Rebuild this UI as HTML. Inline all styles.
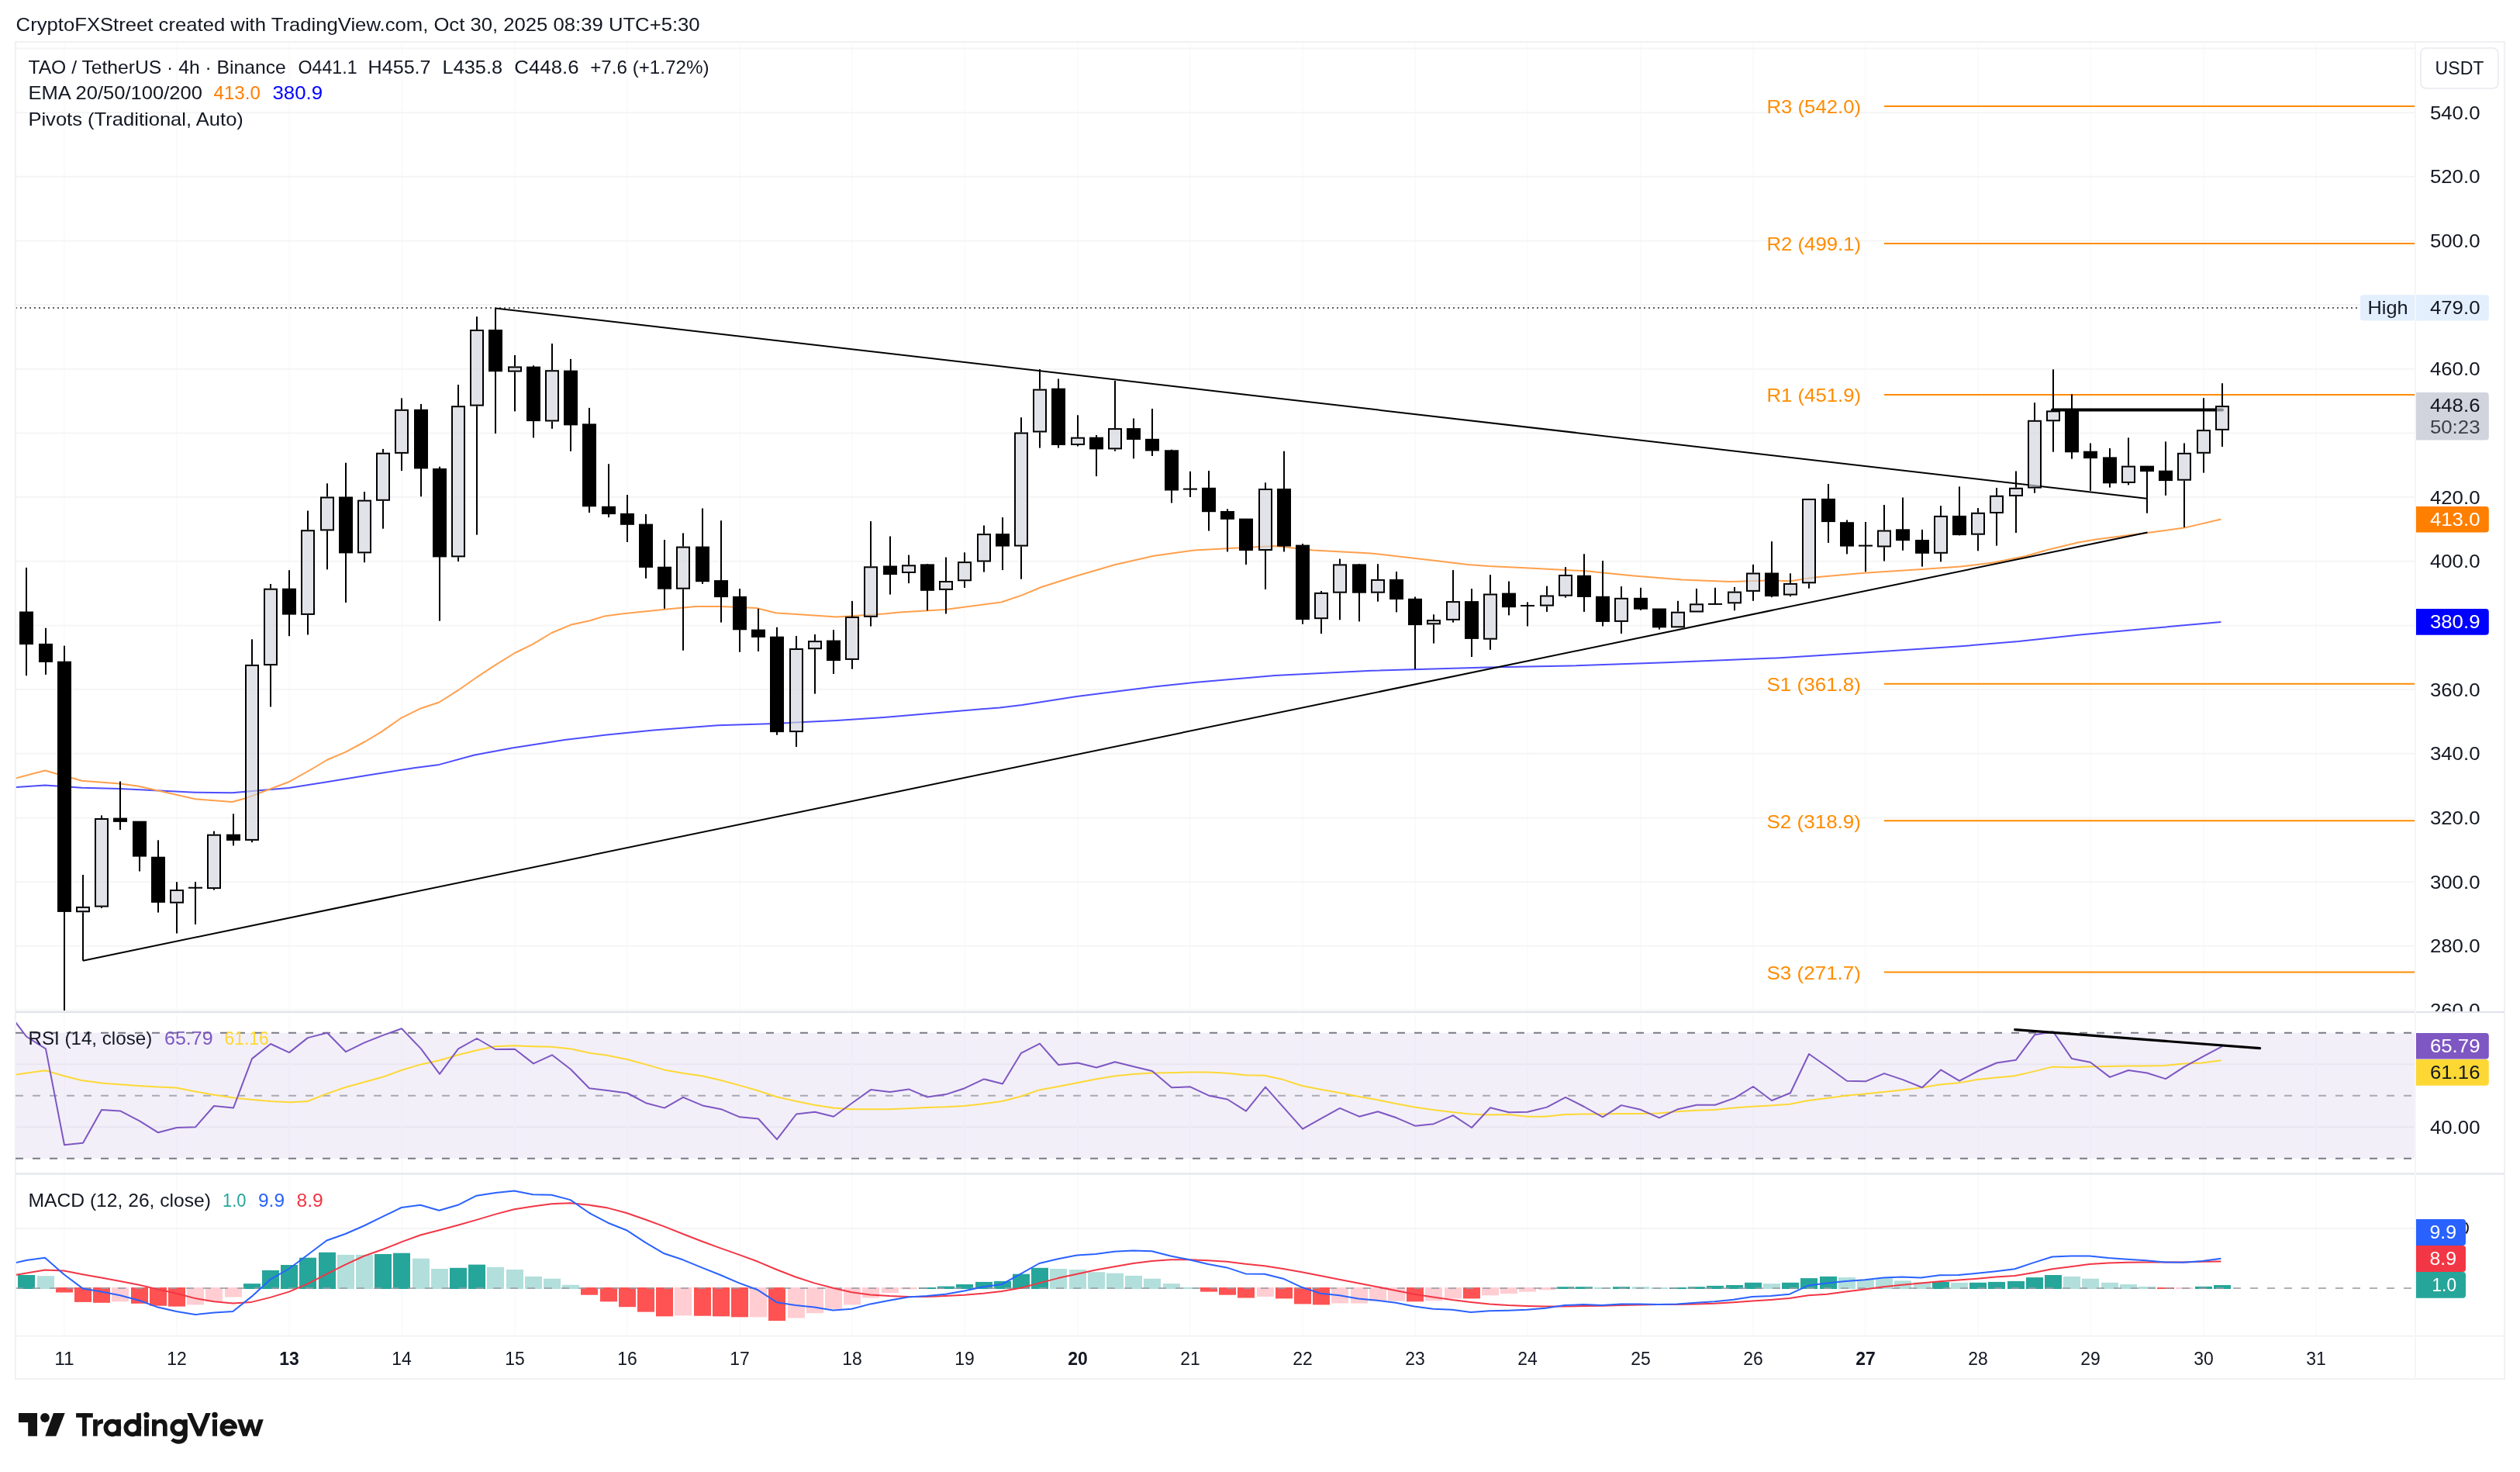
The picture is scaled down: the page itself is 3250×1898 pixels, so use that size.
<!DOCTYPE html>
<html><head><meta charset="utf-8"><title>TAO / TetherUS chart</title>
<style>html,body{margin:0;padding:0;background:#fff;}body{width:3250px;height:1898px;overflow:hidden;font-family:"Liberation Sans",sans-serif;}svg{display:block;position:absolute;left:0;top:0;}svg.t{will-change:transform;}</style>
</head><body>
<svg class="b" width="3250" height="1898" viewBox="0 0 3250 1898" font-family="'Liberation Sans', sans-serif"><rect x="0" y="0" width="3250" height="1898" fill="#ffffff"/>
<rect x="20" y="54" width="3210" height="1724" fill="#ffffff" stroke="#f1f1f3" stroke-width="2"/>
<line x1="83" y1="55" x2="83" y2="1722" stroke="#fbfbfc" stroke-width="2"/>
<line x1="228" y1="55" x2="228" y2="1722" stroke="#fbfbfc" stroke-width="2"/>
<line x1="373" y1="55" x2="373" y2="1722" stroke="#fbfbfc" stroke-width="2"/>
<line x1="518" y1="55" x2="518" y2="1722" stroke="#fbfbfc" stroke-width="2"/>
<line x1="664" y1="55" x2="664" y2="1722" stroke="#fbfbfc" stroke-width="2"/>
<line x1="809" y1="55" x2="809" y2="1722" stroke="#fbfbfc" stroke-width="2"/>
<line x1="954" y1="55" x2="954" y2="1722" stroke="#fbfbfc" stroke-width="2"/>
<line x1="1099" y1="55" x2="1099" y2="1722" stroke="#fbfbfc" stroke-width="2"/>
<line x1="1244" y1="55" x2="1244" y2="1722" stroke="#fbfbfc" stroke-width="2"/>
<line x1="1390" y1="55" x2="1390" y2="1722" stroke="#fbfbfc" stroke-width="2"/>
<line x1="1535" y1="55" x2="1535" y2="1722" stroke="#fbfbfc" stroke-width="2"/>
<line x1="1680" y1="55" x2="1680" y2="1722" stroke="#fbfbfc" stroke-width="2"/>
<line x1="1825" y1="55" x2="1825" y2="1722" stroke="#fbfbfc" stroke-width="2"/>
<line x1="1970" y1="55" x2="1970" y2="1722" stroke="#fbfbfc" stroke-width="2"/>
<line x1="2116" y1="55" x2="2116" y2="1722" stroke="#fbfbfc" stroke-width="2"/>
<line x1="2261" y1="55" x2="2261" y2="1722" stroke="#fbfbfc" stroke-width="2"/>
<line x1="2406" y1="55" x2="2406" y2="1722" stroke="#fbfbfc" stroke-width="2"/>
<line x1="2551" y1="55" x2="2551" y2="1722" stroke="#fbfbfc" stroke-width="2"/>
<line x1="2696" y1="55" x2="2696" y2="1722" stroke="#fbfbfc" stroke-width="2"/>
<line x1="2842" y1="55" x2="2842" y2="1722" stroke="#fbfbfc" stroke-width="2"/>
<line x1="2987" y1="55" x2="2987" y2="1722" stroke="#fbfbfc" stroke-width="2"/>
<line x1="21" y1="62.5" x2="3114" y2="62.5" stroke="#f5f5f6" stroke-width="2"/>
<line x1="21" y1="145.2" x2="3114" y2="145.2" stroke="#f5f5f6" stroke-width="2"/>
<line x1="21" y1="227.8" x2="3114" y2="227.8" stroke="#f5f5f6" stroke-width="2"/>
<line x1="21" y1="310.5" x2="3114" y2="310.5" stroke="#f5f5f6" stroke-width="2"/>
<line x1="21" y1="393.1" x2="3114" y2="393.1" stroke="#f5f5f6" stroke-width="2"/>
<line x1="21" y1="475.8" x2="3114" y2="475.8" stroke="#f5f5f6" stroke-width="2"/>
<line x1="21" y1="558.4" x2="3114" y2="558.4" stroke="#f5f5f6" stroke-width="2"/>
<line x1="21" y1="641.1" x2="3114" y2="641.1" stroke="#f5f5f6" stroke-width="2"/>
<line x1="21" y1="723.8" x2="3114" y2="723.8" stroke="#f5f5f6" stroke-width="2"/>
<line x1="21" y1="806.4" x2="3114" y2="806.4" stroke="#f5f5f6" stroke-width="2"/>
<line x1="21" y1="889.1" x2="3114" y2="889.1" stroke="#f5f5f6" stroke-width="2"/>
<line x1="21" y1="971.7" x2="3114" y2="971.7" stroke="#f5f5f6" stroke-width="2"/>
<line x1="21" y1="1054.4" x2="3114" y2="1054.4" stroke="#f5f5f6" stroke-width="2"/>
<line x1="21" y1="1137" x2="3114" y2="1137" stroke="#f5f5f6" stroke-width="2"/>
<line x1="21" y1="1219.7" x2="3114" y2="1219.7" stroke="#f5f5f6" stroke-width="2"/>
<line x1="21" y1="1302.4" x2="3114" y2="1302.4" stroke="#f5f5f6" stroke-width="2"/>
<rect x="21" y="1331.7" width="3093" height="162" fill="#f2eff9"/>
<line x1="21" y1="1372.2" x2="3114" y2="1372.2" stroke="#e9e6f1" stroke-width="2"/>
<line x1="21" y1="1453.2" x2="3114" y2="1453.2" stroke="#e9e6f1" stroke-width="2"/>
<line x1="83" y1="1331.7" x2="83" y2="1493.7" stroke="#efecf7" stroke-width="2"/>
<line x1="228" y1="1331.7" x2="228" y2="1493.7" stroke="#efecf7" stroke-width="2"/>
<line x1="373" y1="1331.7" x2="373" y2="1493.7" stroke="#efecf7" stroke-width="2"/>
<line x1="518" y1="1331.7" x2="518" y2="1493.7" stroke="#efecf7" stroke-width="2"/>
<line x1="664" y1="1331.7" x2="664" y2="1493.7" stroke="#efecf7" stroke-width="2"/>
<line x1="809" y1="1331.7" x2="809" y2="1493.7" stroke="#efecf7" stroke-width="2"/>
<line x1="954" y1="1331.7" x2="954" y2="1493.7" stroke="#efecf7" stroke-width="2"/>
<line x1="1099" y1="1331.7" x2="1099" y2="1493.7" stroke="#efecf7" stroke-width="2"/>
<line x1="1244" y1="1331.7" x2="1244" y2="1493.7" stroke="#efecf7" stroke-width="2"/>
<line x1="1390" y1="1331.7" x2="1390" y2="1493.7" stroke="#efecf7" stroke-width="2"/>
<line x1="1535" y1="1331.7" x2="1535" y2="1493.7" stroke="#efecf7" stroke-width="2"/>
<line x1="1680" y1="1331.7" x2="1680" y2="1493.7" stroke="#efecf7" stroke-width="2"/>
<line x1="1825" y1="1331.7" x2="1825" y2="1493.7" stroke="#efecf7" stroke-width="2"/>
<line x1="1970" y1="1331.7" x2="1970" y2="1493.7" stroke="#efecf7" stroke-width="2"/>
<line x1="2116" y1="1331.7" x2="2116" y2="1493.7" stroke="#efecf7" stroke-width="2"/>
<line x1="2261" y1="1331.7" x2="2261" y2="1493.7" stroke="#efecf7" stroke-width="2"/>
<line x1="2406" y1="1331.7" x2="2406" y2="1493.7" stroke="#efecf7" stroke-width="2"/>
<line x1="2551" y1="1331.7" x2="2551" y2="1493.7" stroke="#efecf7" stroke-width="2"/>
<line x1="2696" y1="1331.7" x2="2696" y2="1493.7" stroke="#efecf7" stroke-width="2"/>
<line x1="2842" y1="1331.7" x2="2842" y2="1493.7" stroke="#efecf7" stroke-width="2"/>
<line x1="2987" y1="1331.7" x2="2987" y2="1493.7" stroke="#efecf7" stroke-width="2"/>
<line x1="21" y1="1584" x2="3114" y2="1584" stroke="#f5f5f6" stroke-width="2"/>
<line x1="20" y1="1331.7" x2="3112" y2="1331.7" stroke="#787b86" stroke-width="2" stroke-dasharray="10 12"/>
<line x1="20" y1="1412.7" x2="3112" y2="1412.7" stroke="#a8aab3" stroke-width="2" stroke-dasharray="10 12"/>
<line x1="20" y1="1493.7" x2="3112" y2="1493.7" stroke="#787b86" stroke-width="2" stroke-dasharray="10 12"/>
<line x1="20" y1="1305" x2="3230" y2="1305" stroke="#e0e3eb" stroke-width="2"/>
<line x1="20" y1="1513.5" x2="3230" y2="1513.5" stroke="#e0e3eb" stroke-width="2"/>
<line x1="20" y1="1722.8" x2="3230" y2="1722.8" stroke="#f3f3f5" stroke-width="2"/>
<line x1="3115" y1="54" x2="3115" y2="1778" stroke="#f6f6f7" stroke-width="2"/>
<defs><clipPath id="cm"><rect x="21" y="55" width="3093" height="1249"/></clipPath><clipPath id="cr"><rect x="21" y="1306" width="3093" height="1206"/></clipPath><clipPath id="cd"><rect x="21" y="1515" width="3093" height="207"/></clipPath></defs>
<g clip-path="url(#cm)">
<line x1="20" y1="397.1" x2="3044" y2="397.1" stroke="#5f5f5f" stroke-width="2" stroke-dasharray="2 4"/>
<line x1="2430" y1="136.9" x2="3114" y2="136.9" stroke="#ff8c00" stroke-width="2"/>
<line x1="2430" y1="313.9" x2="3114" y2="313.9" stroke="#ff8c00" stroke-width="2"/>
<line x1="2430" y1="509.1" x2="3114" y2="509.1" stroke="#ff8c00" stroke-width="2"/>
<line x1="2430" y1="881.7" x2="3114" y2="881.7" stroke="#ff8c00" stroke-width="2"/>
<line x1="2430" y1="1058.3" x2="3114" y2="1058.3" stroke="#ff8c00" stroke-width="2"/>
<line x1="2430" y1="1253.6" x2="3114" y2="1253.6" stroke="#ff8c00" stroke-width="2"/>
<polyline points="20,1015.1 58.1,1012.5 105.7,1015.7 154.9,1017 251.7,1021.7 299.4,1022.2 372.4,1015.9 420,1008.6 478,999 535.4,990 566.5,985.9 612,973.5 661.8,964.3 728.1,954 779.9,947.8 842.9,941.4 925.8,935.2 992,933.2 1079,929 1140,924.9 1289.2,912.4 1318.2,909.1 1388.7,897.9 1488.1,885.5 1540,880.1 1644.3,871 1768.6,864.8 1917.8,860.6 2024.3,858.5 2148.6,854.3 2300,848.1 2404.3,841.6 2528.6,833.3 2603.2,827.1 2680,818.8 2770,810.5 2864.4,802" fill="none" stroke="#4d4dff" stroke-width="2" stroke-linejoin="round"/>
<polyline points="20,1003.5 58.1,993.5 105.7,1006.7 154.9,1010.6 178.7,1013.8 251.7,1030.2 299.4,1034 316.8,1029.2 372.4,1008.3 404.9,990 421.4,980 446.3,969.3 471.2,956 491.9,943.6 516.8,926.2 541.6,913.8 566.5,905.5 591.4,889.7 616.2,872.3 639,857.4 663.9,842 686.7,830.9 711.5,816 736.4,805.6 760,800.5 779.9,794.4 801.4,791.4 855.3,786 896.8,781.9 929.9,781.9 975.5,784 1000.4,790.2 1079,795.6 1140,791.4 1160,789.4 1218.7,786 1291.3,776.5 1318.2,767.4 1343,757 1388.7,742.5 1438.4,728 1488.1,716.8 1520,712.3 1540,709.4 1582,707.3 1644.3,704 1694,709.4 1768.6,713.5 1851.5,723 1893,728 1920,730 1962.2,732.1 2045,736.2 2107.2,742.4 2169.4,747.4 2231.5,749.9 2280,748.4 2309,749.2 2342,744.2 2404.3,738.8 2479,733.9 2528.6,730.6 2570,725.6 2611.5,717.3 2640.5,709 2680,699.5 2703.2,695.4 2769.5,687 2817,680.6 2864.4,669.5" fill="none" stroke="#ffa04d" stroke-width="2" stroke-linejoin="round"/>
<line x1="639" y1="397.4" x2="2768" y2="642.7" stroke="#000" stroke-width="2"/>
<line x1="107" y1="1238.7" x2="2769.5" y2="686.5" stroke="#000" stroke-width="2"/>
<line x1="2647" y1="528.4" x2="2866" y2="528.4" stroke="#000" stroke-width="4" stroke-linecap="round"/>
<rect x="33" y="731.9" width="2" height="139.3" fill="#000"/>
<rect x="25" y="788.5" width="18" height="42.6" fill="#000"/>
<rect x="58" y="809.8" width="2" height="60.1" fill="#000"/>
<rect x="50" y="829.9" width="18" height="24" fill="#000"/>
<rect x="82" y="832.6" width="2" height="470.4" fill="#000"/>
<rect x="74" y="852.7" width="18" height="323.2" fill="#000"/>
<rect x="106" y="1128" width="2" height="40.9" fill="#000"/>
<rect x="106" y="1176.3" width="2" height="62.4" fill="#000"/>
<rect x="99" y="1169.9" width="16" height="5.4" fill="#d1d4dc" fill-opacity="0.66" stroke="#000" stroke-width="2"/>
<rect x="130" y="1051.4" width="2" height="3.6" fill="#000"/>
<rect x="130" y="1169.6" width="2" height="1.4" fill="#000"/>
<rect x="123" y="1056" width="16" height="112.6" fill="#d1d4dc" fill-opacity="0.66" stroke="#000" stroke-width="2"/>
<rect x="154" y="1007.5" width="2" height="62.5" fill="#000"/>
<rect x="146" y="1054.6" width="18" height="5.3" fill="#000"/>
<rect x="179" y="1059.3" width="2" height="64.2" fill="#000"/>
<rect x="171" y="1058.7" width="18" height="45.9" fill="#000"/>
<rect x="203" y="1083.3" width="2" height="93.3" fill="#000"/>
<rect x="195" y="1104.7" width="18" height="59.2" fill="#000"/>
<rect x="227" y="1137.2" width="2" height="9.8" fill="#000"/>
<rect x="227" y="1164.7" width="2" height="38.8" fill="#000"/>
<rect x="220" y="1148" width="16" height="15.7" fill="#d1d4dc" fill-opacity="0.66" stroke="#000" stroke-width="2"/>
<rect x="251" y="1137.2" width="2" height="54.7" fill="#000"/>
<rect x="243" y="1143.7" width="18" height="2" fill="#000"/>
<rect x="275" y="1071.7" width="2" height="4" fill="#000"/>
<rect x="275" y="1146.1" width="2" height="1.5" fill="#000"/>
<rect x="268" y="1076.7" width="16" height="68.4" fill="#d1d4dc" fill-opacity="0.66" stroke="#000" stroke-width="2"/>
<rect x="300" y="1049.4" width="2" height="41" fill="#000"/>
<rect x="292" y="1075.7" width="18" height="8.2" fill="#000"/>
<rect x="324" y="824.3" width="2" height="32.6" fill="#000"/>
<rect x="324" y="1083.9" width="2" height="2.3" fill="#000"/>
<rect x="317" y="857.9" width="16" height="225" fill="#d1d4dc" fill-opacity="0.66" stroke="#000" stroke-width="2"/>
<rect x="348" y="753" width="2" height="5.7" fill="#000"/>
<rect x="348" y="858.1" width="2" height="53.3" fill="#000"/>
<rect x="341" y="759.7" width="16" height="97.4" fill="#d1d4dc" fill-opacity="0.66" stroke="#000" stroke-width="2"/>
<rect x="372" y="735.2" width="2" height="85" fill="#000"/>
<rect x="364" y="758.7" width="18" height="33.9" fill="#000"/>
<rect x="396" y="658.5" width="2" height="24.7" fill="#000"/>
<rect x="396" y="792.9" width="2" height="25.6" fill="#000"/>
<rect x="389" y="684.2" width="16" height="107.7" fill="#d1d4dc" fill-opacity="0.66" stroke="#000" stroke-width="2"/>
<rect x="421" y="623.3" width="2" height="17.2" fill="#000"/>
<rect x="421" y="684.4" width="2" height="49.9" fill="#000"/>
<rect x="414" y="641.5" width="16" height="41.9" fill="#d1d4dc" fill-opacity="0.66" stroke="#000" stroke-width="2"/>
<rect x="445" y="596.7" width="2" height="180.3" fill="#000"/>
<rect x="437" y="640.5" width="18" height="72.9" fill="#000"/>
<rect x="469" y="634" width="2" height="10.6" fill="#000"/>
<rect x="469" y="713.4" width="2" height="11.8" fill="#000"/>
<rect x="462" y="645.6" width="16" height="66.8" fill="#d1d4dc" fill-opacity="0.66" stroke="#000" stroke-width="2"/>
<rect x="493" y="578.9" width="2" height="4.8" fill="#000"/>
<rect x="493" y="645.8" width="2" height="35.9" fill="#000"/>
<rect x="486" y="584.7" width="16" height="60.1" fill="#d1d4dc" fill-opacity="0.66" stroke="#000" stroke-width="2"/>
<rect x="517" y="513.4" width="2" height="14.4" fill="#000"/>
<rect x="517" y="584.9" width="2" height="22.2" fill="#000"/>
<rect x="510" y="528.8" width="16" height="55.1" fill="#d1d4dc" fill-opacity="0.66" stroke="#000" stroke-width="2"/>
<rect x="542" y="520.9" width="2" height="119.4" fill="#000"/>
<rect x="534" y="527.8" width="18" height="76.6" fill="#000"/>
<rect x="566" y="601.7" width="2" height="198.9" fill="#000"/>
<rect x="558" y="604" width="18" height="114.4" fill="#000"/>
<rect x="590" y="496" width="2" height="27.2" fill="#000"/>
<rect x="590" y="718.4" width="2" height="5.6" fill="#000"/>
<rect x="583" y="524.2" width="16" height="193.2" fill="#d1d4dc" fill-opacity="0.66" stroke="#000" stroke-width="2"/>
<rect x="614" y="408.2" width="2" height="16.8" fill="#000"/>
<rect x="614" y="523.6" width="2" height="166" fill="#000"/>
<rect x="607" y="426" width="16" height="96.6" fill="#d1d4dc" fill-opacity="0.66" stroke="#000" stroke-width="2"/>
<rect x="638" y="397.4" width="2" height="161.6" fill="#000"/>
<rect x="630" y="425" width="18" height="54.2" fill="#000"/>
<rect x="663" y="457.9" width="2" height="14.5" fill="#000"/>
<rect x="663" y="479.6" width="2" height="50.8" fill="#000"/>
<rect x="656" y="473.4" width="16" height="5.2" fill="#d1d4dc" fill-opacity="0.66" stroke="#000" stroke-width="2"/>
<rect x="687" y="471.2" width="2" height="93.2" fill="#000"/>
<rect x="679" y="472.6" width="18" height="70.5" fill="#000"/>
<rect x="711" y="443" width="2" height="34.2" fill="#000"/>
<rect x="711" y="543.5" width="2" height="9.3" fill="#000"/>
<rect x="704" y="478.2" width="16" height="64.3" fill="#d1d4dc" fill-opacity="0.66" stroke="#000" stroke-width="2"/>
<rect x="735" y="462.9" width="2" height="118.9" fill="#000"/>
<rect x="727" y="477.6" width="18" height="70.8" fill="#000"/>
<rect x="759" y="525.9" width="2" height="135.1" fill="#000"/>
<rect x="751" y="546.4" width="18" height="106.9" fill="#000"/>
<rect x="784" y="598.3" width="2" height="68.8" fill="#000"/>
<rect x="776" y="652.8" width="18" height="10.3" fill="#000"/>
<rect x="808" y="638.1" width="2" height="60.9" fill="#000"/>
<rect x="800" y="661.9" width="18" height="14.9" fill="#000"/>
<rect x="832" y="663" width="2" height="82.8" fill="#000"/>
<rect x="824" y="675.6" width="18" height="56.3" fill="#000"/>
<rect x="856" y="696.1" width="2" height="88.7" fill="#000"/>
<rect x="848" y="730.7" width="18" height="29" fill="#000"/>
<rect x="880" y="687.4" width="2" height="17.2" fill="#000"/>
<rect x="880" y="759.7" width="2" height="79" fill="#000"/>
<rect x="873" y="705.6" width="16" height="53.1" fill="#d1d4dc" fill-opacity="0.66" stroke="#000" stroke-width="2"/>
<rect x="905" y="655.5" width="2" height="97.4" fill="#000"/>
<rect x="897" y="704.6" width="18" height="45.6" fill="#000"/>
<rect x="929" y="671.2" width="2" height="131.4" fill="#000"/>
<rect x="921" y="748.1" width="18" height="22" fill="#000"/>
<rect x="953" y="759.1" width="2" height="81.6" fill="#000"/>
<rect x="945" y="768.9" width="18" height="43.4" fill="#000"/>
<rect x="977" y="784.8" width="2" height="55.1" fill="#000"/>
<rect x="969" y="811.6" width="18" height="10.3" fill="#000"/>
<rect x="1001" y="808.8" width="2" height="138.9" fill="#000"/>
<rect x="993" y="820.7" width="18" height="123.4" fill="#000"/>
<rect x="1026" y="820" width="2" height="16" fill="#000"/>
<rect x="1026" y="944.1" width="2" height="18.9" fill="#000"/>
<rect x="1019" y="837" width="16" height="106.1" fill="#d1d4dc" fill-opacity="0.66" stroke="#000" stroke-width="2"/>
<rect x="1050" y="818" width="2" height="8.1" fill="#000"/>
<rect x="1050" y="837.2" width="2" height="57.4" fill="#000"/>
<rect x="1043" y="827.1" width="16" height="9.1" fill="#d1d4dc" fill-opacity="0.66" stroke="#000" stroke-width="2"/>
<rect x="1074" y="812.2" width="2" height="56.7" fill="#000"/>
<rect x="1066" y="825.6" width="18" height="26.5" fill="#000"/>
<rect x="1098" y="774.9" width="2" height="20.1" fill="#000"/>
<rect x="1098" y="850.9" width="2" height="11.8" fill="#000"/>
<rect x="1091" y="796" width="16" height="53.9" fill="#d1d4dc" fill-opacity="0.66" stroke="#000" stroke-width="2"/>
<rect x="1122" y="672.1" width="2" height="58.2" fill="#000"/>
<rect x="1122" y="795.8" width="2" height="11.8" fill="#000"/>
<rect x="1115" y="731.3" width="16" height="63.5" fill="#d1d4dc" fill-opacity="0.66" stroke="#000" stroke-width="2"/>
<rect x="1147" y="691.5" width="2" height="75.1" fill="#000"/>
<rect x="1139" y="729.5" width="18" height="11.6" fill="#000"/>
<rect x="1171" y="715.6" width="2" height="12.7" fill="#000"/>
<rect x="1171" y="739" width="2" height="13.1" fill="#000"/>
<rect x="1164" y="729.3" width="16" height="8.7" fill="#d1d4dc" fill-opacity="0.66" stroke="#000" stroke-width="2"/>
<rect x="1195" y="727.2" width="2" height="60.1" fill="#000"/>
<rect x="1187" y="727.4" width="18" height="34.4" fill="#000"/>
<rect x="1219" y="718.5" width="2" height="30.5" fill="#000"/>
<rect x="1219" y="760.9" width="2" height="30.5" fill="#000"/>
<rect x="1212" y="750" width="16" height="9.9" fill="#d1d4dc" fill-opacity="0.66" stroke="#000" stroke-width="2"/>
<rect x="1243" y="712.3" width="2" height="11.8" fill="#000"/>
<rect x="1243" y="749.3" width="2" height="8.6" fill="#000"/>
<rect x="1236" y="725.1" width="16" height="23.2" fill="#d1d4dc" fill-opacity="0.66" stroke="#000" stroke-width="2"/>
<rect x="1268" y="677.5" width="2" height="10.6" fill="#000"/>
<rect x="1268" y="724.5" width="2" height="13.1" fill="#000"/>
<rect x="1261" y="689.1" width="16" height="34.4" fill="#d1d4dc" fill-opacity="0.66" stroke="#000" stroke-width="2"/>
<rect x="1292" y="667.1" width="2" height="68" fill="#000"/>
<rect x="1284" y="688.1" width="18" height="16.5" fill="#000"/>
<rect x="1316" y="538.2" width="2" height="19.3" fill="#000"/>
<rect x="1316" y="704.6" width="2" height="42.1" fill="#000"/>
<rect x="1309" y="558.5" width="16" height="145.1" fill="#d1d4dc" fill-opacity="0.66" stroke="#000" stroke-width="2"/>
<rect x="1340" y="476" width="2" height="25.6" fill="#000"/>
<rect x="1340" y="557.5" width="2" height="20.1" fill="#000"/>
<rect x="1333" y="502.6" width="16" height="53.9" fill="#d1d4dc" fill-opacity="0.66" stroke="#000" stroke-width="2"/>
<rect x="1364" y="488.5" width="2" height="89.1" fill="#000"/>
<rect x="1356" y="500.7" width="18" height="73.3" fill="#000"/>
<rect x="1389" y="535.3" width="2" height="28.4" fill="#000"/>
<rect x="1389" y="574" width="2" height="1.5" fill="#000"/>
<rect x="1382" y="564.7" width="16" height="8.3" fill="#d1d4dc" fill-opacity="0.66" stroke="#000" stroke-width="2"/>
<rect x="1413" y="561" width="2" height="53.1" fill="#000"/>
<rect x="1405" y="563.7" width="18" height="15.7" fill="#000"/>
<rect x="1437" y="491" width="2" height="61.1" fill="#000"/>
<rect x="1437" y="579.4" width="2" height="2.3" fill="#000"/>
<rect x="1430" y="553.1" width="16" height="25.3" fill="#d1d4dc" fill-opacity="0.66" stroke="#000" stroke-width="2"/>
<rect x="1461" y="539.5" width="2" height="51.8" fill="#000"/>
<rect x="1453" y="552.1" width="18" height="14.9" fill="#000"/>
<rect x="1485" y="527" width="2" height="61" fill="#000"/>
<rect x="1477" y="565.8" width="18" height="15.7" fill="#000"/>
<rect x="1510" y="579.7" width="2" height="68.8" fill="#000"/>
<rect x="1502" y="580.3" width="18" height="52.2" fill="#000"/>
<rect x="1534" y="607.8" width="2" height="33.2" fill="#000"/>
<rect x="1526" y="629.6" width="18" height="2" fill="#000"/>
<rect x="1558" y="607" width="2" height="77.5" fill="#000"/>
<rect x="1550" y="628.8" width="18" height="31.4" fill="#000"/>
<rect x="1582" y="656.3" width="2" height="55.1" fill="#000"/>
<rect x="1574" y="659" width="18" height="10.8" fill="#000"/>
<rect x="1606" y="669.2" width="2" height="58.8" fill="#000"/>
<rect x="1598" y="668.6" width="18" height="41.4" fill="#000"/>
<rect x="1631" y="622.3" width="2" height="7.7" fill="#000"/>
<rect x="1631" y="710" width="2" height="49.9" fill="#000"/>
<rect x="1624" y="631" width="16" height="78" fill="#d1d4dc" fill-opacity="0.66" stroke="#000" stroke-width="2"/>
<rect x="1655" y="581.7" width="2" height="129.7" fill="#000"/>
<rect x="1647" y="630" width="18" height="74.6" fill="#000"/>
<rect x="1679" y="701.1" width="2" height="103.6" fill="#000"/>
<rect x="1671" y="702.6" width="18" height="96.5" fill="#000"/>
<rect x="1703" y="762" width="2" height="1.9" fill="#000"/>
<rect x="1703" y="798.2" width="2" height="18.9" fill="#000"/>
<rect x="1696" y="764.9" width="16" height="32.3" fill="#d1d4dc" fill-opacity="0.66" stroke="#000" stroke-width="2"/>
<rect x="1727" y="720.6" width="2" height="6.8" fill="#000"/>
<rect x="1727" y="764.7" width="2" height="34.6" fill="#000"/>
<rect x="1720" y="728.4" width="16" height="35.3" fill="#d1d4dc" fill-opacity="0.66" stroke="#000" stroke-width="2"/>
<rect x="1752" y="727.2" width="2" height="74.2" fill="#000"/>
<rect x="1744" y="727.4" width="18" height="37.3" fill="#000"/>
<rect x="1776" y="727.2" width="2" height="19.7" fill="#000"/>
<rect x="1776" y="764.7" width="2" height="11" fill="#000"/>
<rect x="1769" y="747.9" width="16" height="15.8" fill="#d1d4dc" fill-opacity="0.66" stroke="#000" stroke-width="2"/>
<rect x="1800" y="737.1" width="2" height="52.3" fill="#000"/>
<rect x="1792" y="746.9" width="18" height="26.1" fill="#000"/>
<rect x="1824" y="769.5" width="2" height="93.2" fill="#000"/>
<rect x="1816" y="771.8" width="18" height="34.3" fill="#000"/>
<rect x="1848" y="792.3" width="2" height="6.8" fill="#000"/>
<rect x="1848" y="805.3" width="2" height="24.3" fill="#000"/>
<rect x="1841" y="800.1" width="16" height="4.2" fill="#d1d4dc" fill-opacity="0.66" stroke="#000" stroke-width="2"/>
<rect x="1873" y="735.1" width="2" height="40" fill="#000"/>
<rect x="1873" y="799.9" width="2" height="2.7" fill="#000"/>
<rect x="1866" y="776.1" width="16" height="22.8" fill="#d1d4dc" fill-opacity="0.66" stroke="#000" stroke-width="2"/>
<rect x="1897" y="759.1" width="2" height="87.9" fill="#000"/>
<rect x="1889" y="775.1" width="18" height="48.8" fill="#000"/>
<rect x="1921" y="741.2" width="2" height="24.3" fill="#000"/>
<rect x="1921" y="824.7" width="2" height="13.1" fill="#000"/>
<rect x="1914" y="766.5" width="16" height="57.2" fill="#d1d4dc" fill-opacity="0.66" stroke="#000" stroke-width="2"/>
<rect x="1945" y="749.5" width="2" height="43.9" fill="#000"/>
<rect x="1937" y="764.6" width="18" height="18.6" fill="#000"/>
<rect x="1969" y="776.4" width="2" height="31.1" fill="#000"/>
<rect x="1961" y="780" width="18" height="2" fill="#000"/>
<rect x="1994" y="755.7" width="2" height="11.8" fill="#000"/>
<rect x="1994" y="781.6" width="2" height="7.3" fill="#000"/>
<rect x="1987" y="768.5" width="16" height="12.1" fill="#d1d4dc" fill-opacity="0.66" stroke="#000" stroke-width="2"/>
<rect x="2018" y="731.2" width="2" height="9.8" fill="#000"/>
<rect x="2018" y="768.7" width="2" height="1.9" fill="#000"/>
<rect x="2011" y="742" width="16" height="25.7" fill="#d1d4dc" fill-opacity="0.66" stroke="#000" stroke-width="2"/>
<rect x="2042" y="714.3" width="2" height="74.6" fill="#000"/>
<rect x="2034" y="741.8" width="18" height="28.2" fill="#000"/>
<rect x="2066" y="723" width="2" height="84.5" fill="#000"/>
<rect x="2058" y="768.8" width="18" height="33.1" fill="#000"/>
<rect x="2090" y="756.1" width="2" height="14.7" fill="#000"/>
<rect x="2090" y="801.9" width="2" height="15.1" fill="#000"/>
<rect x="2083" y="771.8" width="16" height="29.1" fill="#d1d4dc" fill-opacity="0.66" stroke="#000" stroke-width="2"/>
<rect x="2115" y="757.8" width="2" height="29" fill="#000"/>
<rect x="2107" y="770.8" width="18" height="14.9" fill="#000"/>
<rect x="2139" y="785.1" width="2" height="26.5" fill="#000"/>
<rect x="2131" y="784.5" width="18" height="24.8" fill="#000"/>
<rect x="2163" y="774.8" width="2" height="13.9" fill="#000"/>
<rect x="2156" y="789.7" width="16" height="18.6" fill="#d1d4dc" fill-opacity="0.66" stroke="#000" stroke-width="2"/>
<rect x="2187" y="759" width="2" height="19.3" fill="#000"/>
<rect x="2180" y="779.3" width="16" height="9.2" fill="#d1d4dc" fill-opacity="0.66" stroke="#000" stroke-width="2"/>
<rect x="2211" y="757.8" width="2" height="22.1" fill="#000"/>
<rect x="2203" y="777.9" width="18" height="2" fill="#000"/>
<rect x="2236" y="757" width="2" height="5.6" fill="#000"/>
<rect x="2236" y="778.3" width="2" height="8.9" fill="#000"/>
<rect x="2229" y="763.6" width="16" height="13.7" fill="#d1d4dc" fill-opacity="0.66" stroke="#000" stroke-width="2"/>
<rect x="2260" y="727.9" width="2" height="10.6" fill="#000"/>
<rect x="2260" y="762.9" width="2" height="11.9" fill="#000"/>
<rect x="2253" y="739.5" width="16" height="22.4" fill="#d1d4dc" fill-opacity="0.66" stroke="#000" stroke-width="2"/>
<rect x="2284" y="698.1" width="2" height="72.1" fill="#000"/>
<rect x="2276" y="738.5" width="18" height="30.6" fill="#000"/>
<rect x="2308" y="739.3" width="2" height="12.6" fill="#000"/>
<rect x="2308" y="767.6" width="2" height="1.5" fill="#000"/>
<rect x="2301" y="752.9" width="16" height="13.7" fill="#d1d4dc" fill-opacity="0.66" stroke="#000" stroke-width="2"/>
<rect x="2332" y="752.3" width="2" height="6.4" fill="#000"/>
<rect x="2325" y="643.9" width="16" height="107.4" fill="#d1d4dc" fill-opacity="0.66" stroke="#000" stroke-width="2"/>
<rect x="2357" y="624" width="2" height="75.9" fill="#000"/>
<rect x="2349" y="642.9" width="18" height="30.2" fill="#000"/>
<rect x="2381" y="670.5" width="2" height="43.9" fill="#000"/>
<rect x="2373" y="673.2" width="18" height="31.4" fill="#000"/>
<rect x="2405" y="673" width="2" height="64.2" fill="#000"/>
<rect x="2397" y="702.6" width="18" height="2" fill="#000"/>
<rect x="2429" y="651" width="2" height="32.5" fill="#000"/>
<rect x="2429" y="705.5" width="2" height="18" fill="#000"/>
<rect x="2422" y="684.5" width="16" height="20" fill="#d1d4dc" fill-opacity="0.66" stroke="#000" stroke-width="2"/>
<rect x="2453" y="641.5" width="2" height="68.3" fill="#000"/>
<rect x="2445" y="682.3" width="18" height="14.9" fill="#000"/>
<rect x="2478" y="682.9" width="2" height="47.7" fill="#000"/>
<rect x="2470" y="696" width="18" height="17.8" fill="#000"/>
<rect x="2502" y="652.2" width="2" height="12.7" fill="#000"/>
<rect x="2502" y="713.8" width="2" height="10.5" fill="#000"/>
<rect x="2495" y="665.9" width="16" height="46.9" fill="#d1d4dc" fill-opacity="0.66" stroke="#000" stroke-width="2"/>
<rect x="2526" y="627.4" width="2" height="63" fill="#000"/>
<rect x="2518" y="664.9" width="18" height="25.2" fill="#000"/>
<rect x="2550" y="655.1" width="2" height="5.7" fill="#000"/>
<rect x="2550" y="689.7" width="2" height="20.6" fill="#000"/>
<rect x="2543" y="661.8" width="16" height="26.9" fill="#d1d4dc" fill-opacity="0.66" stroke="#000" stroke-width="2"/>
<rect x="2574" y="629" width="2" height="9.8" fill="#000"/>
<rect x="2574" y="662" width="2" height="41.6" fill="#000"/>
<rect x="2567" y="639.8" width="16" height="21.2" fill="#d1d4dc" fill-opacity="0.66" stroke="#000" stroke-width="2"/>
<rect x="2599" y="607.5" width="2" height="21.3" fill="#000"/>
<rect x="2599" y="640" width="2" height="47" fill="#000"/>
<rect x="2592" y="629.8" width="16" height="9.2" fill="#d1d4dc" fill-opacity="0.66" stroke="#000" stroke-width="2"/>
<rect x="2623" y="519.2" width="2" height="22.6" fill="#000"/>
<rect x="2623" y="629.6" width="2" height="6.1" fill="#000"/>
<rect x="2616" y="542.8" width="16" height="85.8" fill="#d1d4dc" fill-opacity="0.66" stroke="#000" stroke-width="2"/>
<rect x="2647" y="476.3" width="2" height="53.1" fill="#000"/>
<rect x="2647" y="543.3" width="2" height="39.4" fill="#000"/>
<rect x="2640" y="530.4" width="16" height="11.9" fill="#d1d4dc" fill-opacity="0.66" stroke="#000" stroke-width="2"/>
<rect x="2671" y="508.3" width="2" height="83.4" fill="#000"/>
<rect x="2663" y="527.3" width="18" height="56" fill="#000"/>
<rect x="2695" y="571.5" width="2" height="61.3" fill="#000"/>
<rect x="2687" y="581.7" width="18" height="9.4" fill="#000"/>
<rect x="2720" y="578" width="2" height="50.6" fill="#000"/>
<rect x="2712" y="589.4" width="18" height="33.9" fill="#000"/>
<rect x="2744" y="564.4" width="2" height="36.2" fill="#000"/>
<rect x="2744" y="622.9" width="2" height="2.5" fill="#000"/>
<rect x="2737" y="601.6" width="16" height="20.3" fill="#d1d4dc" fill-opacity="0.66" stroke="#000" stroke-width="2"/>
<rect x="2768" y="601.2" width="2" height="60.5" fill="#000"/>
<rect x="2760" y="600.6" width="18" height="7.5" fill="#000"/>
<rect x="2792" y="569.4" width="2" height="69.5" fill="#000"/>
<rect x="2784" y="606.7" width="18" height="13.4" fill="#000"/>
<rect x="2816" y="571.5" width="2" height="12.3" fill="#000"/>
<rect x="2816" y="619.7" width="2" height="60.3" fill="#000"/>
<rect x="2809" y="584.8" width="16" height="33.9" fill="#d1d4dc" fill-opacity="0.66" stroke="#000" stroke-width="2"/>
<rect x="2841" y="513.2" width="2" height="40.9" fill="#000"/>
<rect x="2841" y="584.8" width="2" height="24.8" fill="#000"/>
<rect x="2834" y="555.1" width="16" height="28.7" fill="#d1d4dc" fill-opacity="0.66" stroke="#000" stroke-width="2"/>
<rect x="2865" y="494.2" width="2" height="28.9" fill="#000"/>
<rect x="2865" y="554.9" width="2" height="21.1" fill="#000"/>
<rect x="2858" y="524.1" width="16" height="29.8" fill="#d1d4dc" fill-opacity="0.66" stroke="#000" stroke-width="2"/>
</g>
<g clip-path="url(#cr)">
<polyline points="19.7,1385.7 58,1380.3 82.5,1387.3 104.8,1393 133.3,1396.8 177.8,1400 203.2,1401.6 227,1402.5 250.8,1407.3 276.2,1411.7 304.8,1415.9 349.2,1420 374.6,1421.3 396.8,1420 419,1411.1 444.4,1402.2 469.8,1395.2 495.2,1388.3 517.5,1380 542.9,1372.4 566.7,1367.3 590.5,1360.3 615.9,1354 638.1,1349.2 663.5,1348.3 685.7,1349.2 711.1,1349.8 736.5,1352.4 761.9,1358.1 780,1360.3 808,1365.7 832.4,1372.4 856.5,1379.4 880.6,1383.8 905,1387.3 929.2,1392.7 953.3,1399.4 977.5,1406.3 1001.6,1414.3 1026,1419.7 1050.2,1424.8 1074.3,1428.6 1098.4,1430.2 1122.5,1430.2 1147,1430.2 1171.1,1429.2 1195.2,1427.9 1219.4,1427.3 1243.5,1426 1268,1423.2 1292,1420 1316.2,1413.7 1340.3,1405.4 1364.4,1401 1388.9,1396.2 1413,1391.4 1437.1,1387.6 1461.3,1385.1 1485.4,1383.5 1509.8,1383.2 1534,1382.5 1558,1382.5 1582.2,1383.8 1606.3,1386.3 1630.8,1386.7 1654.9,1392.1 1679,1400 1703.2,1404.8 1727.3,1408.9 1751.7,1413.7 1775.9,1418.1 1800,1422.9 1824.1,1427.6 1848.3,1431.1 1872.7,1434 1896.8,1436.5 1921,1437.5 1945.1,1437.1 1969.2,1439.7 1993.3,1439.7 2017.8,1437.1 2041.9,1436.5 2066,1436.5 2090.2,1435.9 2114.6,1435.9 2138.7,1435.6 2162.9,1433.3 2187,1431.7 2211.1,1431.1 2235.6,1428.6 2259.7,1426.7 2283.8,1425.4 2308,1423.8 2332,1419 2356.2,1416 2380.3,1412.7 2404.8,1410.5 2428.9,1407.9 2453,1405.4 2477.1,1402.5 2501.6,1398.4 2525.7,1396.2 2549.8,1392.1 2574,1389.5 2598.4,1387.3 2622.5,1381.6 2646.7,1375.6 2670.8,1376.2 2694.9,1375.2 2719.4,1374.9 2743.5,1374.6 2767.6,1374.6 2791.7,1374 2815.9,1371.4 2840.3,1370.5 2864.4,1367.3" fill="none" stroke="#fdd835" stroke-width="2" stroke-linejoin="round"/>
<polyline points="19.7,1317.5 34,1336.5 59,1352.4 83,1476.2 107,1473.7 131,1431.1 155,1432.4 180,1445.4 204,1460.3 228,1454 252,1453.3 276,1426 301,1428.6 325,1365.1 349,1346 373,1357.1 397,1338.1 422,1331.7 446,1356.2 470,1344.4 494,1334.9 518,1326.3 543,1352.4 567,1384.8 591,1352.4 615,1339 639,1353 664,1352.7 688,1371.4 712,1360.3 736,1378.7 760,1403.2 785,1406.3 809,1409.5 833,1422.2 857,1428.6 881,1414.9 906,1425.4 930,1430.2 954,1440.3 978,1442.5 1002,1469.2 1027,1436.5 1051,1433.7 1075,1439.7 1099,1422.2 1123,1405.1 1148,1407.9 1172,1404.4 1196,1414.6 1220,1411.1 1244,1403.2 1269,1391.4 1293,1397.5 1317,1357.8 1341,1345.7 1365,1373 1390,1370.5 1414,1376.5 1438,1369.2 1462,1375.2 1486,1381 1511,1402.2 1535,1401.3 1559,1412.7 1583,1417.5 1607,1432.7 1632,1401.6 1656,1428.6 1680,1455.6 1704,1442.2 1728,1428.9 1753,1439.7 1777,1433.3 1801,1441.3 1825,1451.7 1849,1449.2 1874,1438.1 1898,1454 1922,1428.3 1946,1434.3 1970,1433.7 1995,1427.6 2019,1414.9 2043,1427 2067,1440.3 2091,1425.1 2116,1430.8 2140,1441.3 2164,1430.2 2188,1424.8 2212,1424.8 2237,1415.9 2261,1401 2285,1419 2309,1409.2 2333,1359 2358,1376.5 2382,1393.7 2406,1394.3 2430,1384.1 2454,1392.1 2479,1402.2 2503,1379.4 2527,1393.7 2551,1381 2575,1370.5 2600,1366.7 2624,1334.3 2648,1330.2 2672,1365.1 2696,1369.8 2721,1388.9 2745,1380 2769,1383.5 2793,1391.1 2817,1375.6 2842,1361.9 2866,1349.2" fill="none" stroke="#7e57c2" stroke-width="2" stroke-linejoin="round"/>
<line x1="2598.7" y1="1327.6" x2="2914.6" y2="1351.7" stroke="#000" stroke-width="3.2" stroke-linecap="round"/>
</g>
<g clip-path="url(#cd)">
<rect x="23" y="1644" width="22" height="18" fill="#26a69a"/>
<rect x="48" y="1645.2" width="22" height="16.8" fill="#b2dfdb"/>
<rect x="72" y="1660" width="22" height="6.5" fill="#ff5252"/>
<rect x="96" y="1660" width="22" height="18.9" fill="#ff5252"/>
<rect x="120" y="1660" width="22" height="19.8" fill="#ff5252"/>
<rect x="144" y="1660" width="22" height="18.3" fill="#ffcdd2"/>
<rect x="169" y="1660" width="22" height="20.8" fill="#ff5252"/>
<rect x="193" y="1660" width="22" height="23.7" fill="#ff5252"/>
<rect x="217" y="1660" width="22" height="24.6" fill="#ff5252"/>
<rect x="241" y="1660" width="22" height="22.4" fill="#ffcdd2"/>
<rect x="265" y="1660" width="22" height="18.3" fill="#ffcdd2"/>
<rect x="290" y="1660" width="22" height="12.5" fill="#ffcdd2"/>
<rect x="314" y="1655.1" width="22" height="6.9" fill="#26a69a"/>
<rect x="338" y="1637.9" width="22" height="24.1" fill="#26a69a"/>
<rect x="362" y="1631" width="22" height="31" fill="#26a69a"/>
<rect x="386" y="1621.7" width="22" height="40.3" fill="#26a69a"/>
<rect x="411" y="1614.8" width="22" height="47.2" fill="#26a69a"/>
<rect x="435" y="1617.9" width="22" height="44.1" fill="#b2dfdb"/>
<rect x="459" y="1617.9" width="22" height="44.1" fill="#b2dfdb"/>
<rect x="483" y="1617" width="22" height="45" fill="#26a69a"/>
<rect x="507" y="1615.7" width="22" height="46.3" fill="#26a69a"/>
<rect x="532" y="1622.7" width="22" height="39.3" fill="#b2dfdb"/>
<rect x="556" y="1636" width="22" height="26" fill="#b2dfdb"/>
<rect x="580" y="1634.8" width="22" height="27.2" fill="#26a69a"/>
<rect x="604" y="1630.6" width="22" height="31.4" fill="#26a69a"/>
<rect x="628" y="1633.8" width="22" height="28.2" fill="#b2dfdb"/>
<rect x="653" y="1637" width="22" height="25" fill="#b2dfdb"/>
<rect x="677" y="1645.9" width="22" height="16.1" fill="#b2dfdb"/>
<rect x="701" y="1648.7" width="22" height="13.3" fill="#b2dfdb"/>
<rect x="725" y="1656.7" width="22" height="5.3" fill="#b2dfdb"/>
<rect x="749" y="1660" width="22" height="9.7" fill="#ff5252"/>
<rect x="774" y="1660" width="22" height="18.3" fill="#ff5252"/>
<rect x="798" y="1660" width="22" height="25.2" fill="#ff5252"/>
<rect x="822" y="1660" width="22" height="31.6" fill="#ff5252"/>
<rect x="846" y="1660" width="22" height="37.3" fill="#ff5252"/>
<rect x="870" y="1660" width="22" height="36.3" fill="#ffcdd2"/>
<rect x="895" y="1660" width="22" height="36.7" fill="#ff5252"/>
<rect x="919" y="1660" width="22" height="37.3" fill="#ff5252"/>
<rect x="943" y="1660" width="22" height="38.3" fill="#ff5252"/>
<rect x="967" y="1660" width="22" height="38.3" fill="#ffcdd2"/>
<rect x="991" y="1660" width="22" height="43" fill="#ff5252"/>
<rect x="1016" y="1660" width="22" height="39.5" fill="#ffcdd2"/>
<rect x="1040" y="1660" width="22" height="33.2" fill="#ffcdd2"/>
<rect x="1064" y="1660" width="22" height="27.8" fill="#ffcdd2"/>
<rect x="1088" y="1660" width="22" height="22.4" fill="#ffcdd2"/>
<rect x="1112" y="1660" width="22" height="13.5" fill="#ffcdd2"/>
<rect x="1137" y="1660" width="22" height="7.1" fill="#ffcdd2"/>
<rect x="1161" y="1660" width="22" height="2.4" fill="#ffcdd2"/>
<rect x="1185" y="1660" width="22" height="2" fill="#26a69a"/>
<rect x="1209" y="1658.6" width="22" height="3.4" fill="#26a69a"/>
<rect x="1233" y="1656" width="22" height="6" fill="#26a69a"/>
<rect x="1258" y="1652.9" width="22" height="9.1" fill="#26a69a"/>
<rect x="1282" y="1651.9" width="22" height="10.1" fill="#26a69a"/>
<rect x="1306" y="1642.7" width="22" height="19.3" fill="#26a69a"/>
<rect x="1330" y="1634.8" width="22" height="27.2" fill="#26a69a"/>
<rect x="1354" y="1636" width="22" height="26" fill="#b2dfdb"/>
<rect x="1379" y="1637" width="22" height="25" fill="#b2dfdb"/>
<rect x="1403" y="1640.2" width="22" height="21.8" fill="#b2dfdb"/>
<rect x="1427" y="1641.7" width="22" height="20.3" fill="#b2dfdb"/>
<rect x="1451" y="1644.9" width="22" height="17.1" fill="#b2dfdb"/>
<rect x="1475" y="1648.7" width="22" height="13.3" fill="#b2dfdb"/>
<rect x="1500" y="1655.1" width="22" height="6.9" fill="#b2dfdb"/>
<rect x="1524" y="1659.8" width="22" height="2.2" fill="#b2dfdb"/>
<rect x="1548" y="1660" width="22" height="5.6" fill="#ff5252"/>
<rect x="1572" y="1660" width="22" height="9.7" fill="#ff5252"/>
<rect x="1596" y="1660" width="22" height="13.5" fill="#ff5252"/>
<rect x="1621" y="1660" width="22" height="11.9" fill="#ffcdd2"/>
<rect x="1645" y="1660" width="22" height="14.4" fill="#ff5252"/>
<rect x="1669" y="1660" width="22" height="21.4" fill="#ff5252"/>
<rect x="1693" y="1660" width="22" height="22.4" fill="#ff5252"/>
<rect x="1717" y="1660" width="22" height="20.5" fill="#ffcdd2"/>
<rect x="1742" y="1660" width="22" height="20.5" fill="#ffcdd2"/>
<rect x="1766" y="1660" width="22" height="17.6" fill="#ffcdd2"/>
<rect x="1790" y="1660" width="22" height="17.6" fill="#ffcdd2"/>
<rect x="1814" y="1660" width="22" height="18.3" fill="#ff5252"/>
<rect x="1838" y="1660" width="22" height="17.3" fill="#ffcdd2"/>
<rect x="1863" y="1660" width="22" height="14.4" fill="#ffcdd2"/>
<rect x="1887" y="1660" width="22" height="14.4" fill="#ff5252"/>
<rect x="1911" y="1660" width="22" height="10.3" fill="#ffcdd2"/>
<rect x="1935" y="1660" width="22" height="8.1" fill="#ffcdd2"/>
<rect x="1959" y="1660" width="22" height="5.6" fill="#ffcdd2"/>
<rect x="1984" y="1660" width="22" height="3.3" fill="#ffcdd2"/>
<rect x="2008" y="1659.2" width="22" height="2.8" fill="#26a69a"/>
<rect x="2032" y="1659.2" width="22" height="2.8" fill="#26a69a"/>
<rect x="2056" y="1659.8" width="22" height="2.2" fill="#b2dfdb"/>
<rect x="2080" y="1659.2" width="22" height="2.8" fill="#26a69a"/>
<rect x="2105" y="1659.2" width="22" height="2.8" fill="#b2dfdb"/>
<rect x="2129" y="1660" width="22" height="2" fill="#b2dfdb"/>
<rect x="2153" y="1660" width="22" height="2" fill="#26a69a"/>
<rect x="2177" y="1659.2" width="22" height="2.8" fill="#26a69a"/>
<rect x="2201" y="1657.9" width="22" height="4.1" fill="#26a69a"/>
<rect x="2226" y="1657" width="22" height="5" fill="#26a69a"/>
<rect x="2250" y="1653.8" width="22" height="8.2" fill="#26a69a"/>
<rect x="2274" y="1655.1" width="22" height="6.9" fill="#b2dfdb"/>
<rect x="2298" y="1653.8" width="22" height="8.2" fill="#26a69a"/>
<rect x="2322" y="1648.1" width="22" height="13.9" fill="#26a69a"/>
<rect x="2347" y="1645.9" width="22" height="16.1" fill="#26a69a"/>
<rect x="2371" y="1647.1" width="22" height="14.9" fill="#b2dfdb"/>
<rect x="2395" y="1649.7" width="22" height="12.3" fill="#b2dfdb"/>
<rect x="2419" y="1648.1" width="22" height="13.9" fill="#b2dfdb"/>
<rect x="2443" y="1651.3" width="22" height="10.7" fill="#b2dfdb"/>
<rect x="2468" y="1653.5" width="22" height="8.5" fill="#b2dfdb"/>
<rect x="2492" y="1652.9" width="22" height="9.1" fill="#26a69a"/>
<rect x="2516" y="1653.8" width="22" height="8.2" fill="#b2dfdb"/>
<rect x="2540" y="1653.8" width="22" height="8.2" fill="#26a69a"/>
<rect x="2564" y="1652.9" width="22" height="9.1" fill="#26a69a"/>
<rect x="2589" y="1651.9" width="22" height="10.1" fill="#26a69a"/>
<rect x="2613" y="1647.1" width="22" height="14.9" fill="#26a69a"/>
<rect x="2637" y="1644" width="22" height="18" fill="#26a69a"/>
<rect x="2661" y="1645.9" width="22" height="16.1" fill="#b2dfdb"/>
<rect x="2685" y="1648.7" width="22" height="13.3" fill="#b2dfdb"/>
<rect x="2710" y="1653.8" width="22" height="8.2" fill="#b2dfdb"/>
<rect x="2734" y="1656" width="22" height="6" fill="#b2dfdb"/>
<rect x="2758" y="1658.9" width="22" height="3.1" fill="#b2dfdb"/>
<rect x="2782" y="1660" width="22" height="2" fill="#ff5252"/>
<rect x="2806" y="1660" width="22" height="2" fill="#ffcdd2"/>
<rect x="2831" y="1658.9" width="22" height="3.1" fill="#26a69a"/>
<rect x="2855" y="1657" width="22" height="5" fill="#26a69a"/>
<rect x="19" y="1645" width="2" height="17" fill="#b2dfdb"/>
<line x1="20" y1="1661" x2="3112" y2="1661" stroke="#9a9ca4" stroke-opacity="0.8" stroke-width="2" stroke-dasharray="10 12"/>
<polyline points="19.7,1644 58,1637.6 82.5,1638.6 106.7,1643.3 130.8,1647.5 155,1651.9 179.4,1656.7 203.5,1662.4 227.6,1667.8 251.7,1674.1 276.2,1678.3 300.3,1680.5 324.4,1678.9 348.6,1672.9 372.7,1665.6 396.8,1655.4 421.3,1642.7 445.4,1630.6 469.5,1619.5 493.7,1611 517.8,1601.4 542.2,1592.5 566.3,1586.2 590.5,1579.8 614.6,1572.9 639,1565.6 663.2,1559.2 687.3,1555.4 711.4,1552.2 735.6,1551.3 760,1553.8 784.1,1557.6 808,1564 832.4,1572.5 856.5,1581.4 880.6,1591 905,1600.5 929.2,1609.4 953.3,1617.9 977.5,1626.8 1001.6,1637 1026,1646.5 1050.2,1654.4 1074.3,1660.8 1098.4,1666.2 1122.5,1669.4 1147,1671 1171.1,1671.9 1195.2,1671.9 1219.4,1671 1243.5,1669.7 1268,1667.8 1292,1664.9 1316.2,1660.8 1340.3,1654.4 1364.4,1648.1 1388.9,1642.7 1413,1637.6 1437.1,1633.2 1461.3,1629 1485.4,1625.9 1509.8,1624.3 1534,1624.3 1558,1625.2 1582.2,1626.8 1606.3,1629.7 1630.8,1632.2 1654.9,1636 1679,1640.2 1703.2,1644.9 1727.3,1649.7 1751.7,1654.4 1775.9,1659.2 1800,1664 1824.1,1668.7 1848.3,1672.5 1872.7,1676 1896.8,1678.9 1921,1681.4 1945.1,1683 1969.2,1684 1993.3,1684.6 2017.8,1684.6 2041.9,1684 2066,1683.7 2090.2,1683 2114.6,1682.4 2138.7,1682.1 2162.9,1682.1 2187,1681.4 2211.1,1680.8 2235.6,1679.2 2259.7,1677.6 2283.8,1676 2308,1674.1 2332,1670.3 2356.2,1668.7 2380.3,1665.6 2404.8,1662.4 2428.9,1659.2 2453,1656.7 2477.1,1654.4 2501.6,1652.2 2525.7,1650.6 2549.8,1648.7 2574,1646.5 2598.4,1644.9 2622.5,1641.1 2646.7,1636.3 2670.8,1633.2 2694.9,1630 2719.4,1628.4 2743.5,1627.8 2767.6,1627.5 2791.7,1627.5 2815.9,1627.5 2840.3,1626.8 2864.4,1626.5" fill="none" stroke="#f23645" stroke-width="2" stroke-linejoin="round"/>
<polyline points="19.7,1628.4 34,1625 58,1621.7 82.5,1643.3 106.7,1661.4 130.8,1665.6 155,1670.3 179.4,1676.7 203.5,1685.6 227.6,1691 251.7,1695.1 276.2,1692.5 300.3,1691 324.4,1671.9 348.6,1649.7 372.7,1636 396.8,1618 421.3,1599.5 445.4,1591 469.5,1580.5 493.7,1568.7 517.8,1557 542.2,1553.8 566.3,1560.8 590.5,1553.8 614.6,1541.7 639,1537.9 663.2,1535.4 687.3,1540.2 711.4,1540.8 735.6,1547.1 760,1564 784.1,1576.7 808,1586.2 832.4,1602.1 856.5,1616.3 880.6,1624.3 905,1634.4 929.2,1644 953.3,1654.4 977.5,1663.3 1001.6,1679.2 1026,1683 1050.2,1685.6 1074.3,1689.4 1098.4,1687.8 1122.5,1681.4 1147,1676.7 1171.1,1672.5 1195.2,1671 1219.4,1668.7 1243.5,1664.6 1268,1659.2 1292,1656 1316.2,1642.7 1340.3,1629 1364.4,1623.3 1388.9,1618.6 1413,1617 1437.1,1613.8 1461.3,1612.5 1485.4,1613.2 1509.8,1619.5 1534,1624.3 1558,1630 1582.2,1634.4 1606.3,1642.4 1630.8,1642.7 1654.9,1648.7 1679,1659.8 1703.2,1667.8 1727.3,1670.3 1751.7,1674.4 1775.9,1676.7 1800,1679.8 1824.1,1684.6 1848.3,1687.8 1872.7,1688.7 1896.8,1691.9 1921,1690.3 1945.1,1689.7 1969.2,1688.7 1993.3,1686.8 2017.8,1683 2041.9,1682.1 2066,1683 2090.2,1681.4 2114.6,1681.4 2138.7,1682.1 2162.9,1681.4 2187,1679.8 2211.1,1678.3 2235.6,1675.7 2259.7,1671.9 2283.8,1671 2308,1668.7 2332,1657.6 2356.2,1654.4 2380.3,1651.9 2404.8,1650.3 2428.9,1647.5 2453,1646.5 2477.1,1647.5 2501.6,1644.3 2525.7,1644 2549.8,1641.7 2574,1639.2 2598.4,1636.3 2622.5,1628.1 2646.7,1620.5 2670.8,1619.5 2694.9,1619.5 2719.4,1622.1 2743.5,1623.7 2767.6,1625.2 2791.7,1627.5 2815.9,1627.8 2840.3,1625.9 2864.4,1622.7" fill="none" stroke="#2962ff" stroke-width="2" stroke-linejoin="round"/>
</g>
<path d="M3180.5,1576.5 Q3185.5,1583 3180.5,1590.5" fill="none" stroke="#131722" stroke-width="2"/>
<path d="M3130,62 H3214 Q3222,62 3222,70 V106 Q3222,114 3214,114 H3130 Q3122,114 3122,106 V70 Q3122,62 3130,62 Z" fill="#ffffff" stroke="#eceef2" stroke-width="2"/>
<path d="M3048,380.3 H3114 Q3114,380.3 3114,380.3 V413.4 Q3114,413.4 3114,413.4 H3048 Q3044,413.4 3044,409.4 V384.3 Q3044,380.3 3048,380.3 Z" fill="#e3effd"/>
<path d="M3116,380.3 H3205.8 Q3209.8,380.3 3209.8,384.3 V409.4 Q3209.8,413.4 3205.8,413.4 H3116 Q3116,413.4 3116,413.4 V380.3 Q3116,380.3 3116,380.3 Z" fill="#e3effd"/>
<path d="M3116,506 H3205.8 Q3209.8,506 3209.8,510 V563.6 Q3209.8,567.6 3205.8,567.6 H3116 Q3116,567.6 3116,567.6 V506 Q3116,506 3116,506 Z" fill="#d1d4dc"/>
<path d="M3116,653 H3205.8 Q3209.8,653 3209.8,657 V682.6 Q3209.8,686.6 3205.8,686.6 H3116 Q3116,686.6 3116,686.6 V653 Q3116,653 3116,653 Z" fill="#ff7f00"/>
<path d="M3116,785 H3205.8 Q3209.8,785 3209.8,789 V814.7 Q3209.8,818.7 3205.8,818.7 H3116 Q3116,818.7 3116,818.7 V785 Q3116,785 3116,785 Z" fill="#0000ff"/>
<path d="M3116,1332 H3205.8 Q3209.8,1332 3209.8,1336 V1361.5 Q3209.8,1365.5 3205.8,1365.5 H3116 Q3116,1365.5 3116,1365.5 V1332 Q3116,1332 3116,1332 Z" fill="#7e57c2"/>
<path d="M3116,1366 H3205.8 Q3209.8,1366 3209.8,1370 V1395.7 Q3209.8,1399.7 3205.8,1399.7 H3116 Q3116,1399.7 3116,1399.7 V1366 Q3116,1366 3116,1366 Z" fill="#fdd835"/>
<path d="M3116,1572 H3176 Q3180,1572 3180,1576 V1602 Q3180,1606 3176,1606 H3116 Q3116,1606 3116,1606 V1572 Q3116,1572 3116,1572 Z" fill="#2962ff"/>
<path d="M3116,1606 H3176 Q3180,1606 3180,1610 V1636 Q3180,1640 3176,1640 H3116 Q3116,1640 3116,1640 V1606 Q3116,1606 3116,1606 Z" fill="#f23645"/>
<path d="M3116,1640 H3176 Q3180,1640 3180,1644 V1669.8 Q3180,1673.8 3176,1673.8 H3116 Q3116,1673.8 3116,1673.8 V1640 Q3116,1640 3116,1640 Z" fill="#26a69a"/>
<path d="M24,1822 H48 V1851.7 H36.2 V1834 H24 Z" fill="#131313"/>
<circle cx="58" cy="1828" r="5.9" fill="#131313"/>
<path d="M69,1822 H83.7 L72.2,1851.7 H58.3 Z" fill="#131313"/>
<g fill="#131313"><rect x="98.1" y="1822.1" width="21.7" height="5.6"/><rect x="106.1" y="1822.1" width="5.7" height="29.6"/><rect x="120.1" y="1830.2" width="5.7" height="21.5"/><path d="M125.5,1833.4 C127.2,1831.1 129.8,1829.8 132.9,1829.8 V1835.6 C129.2,1835.6 125.8,1837.6 125.8,1842 Z"/><rect x="150.1" y="1830.2" width="5.8" height="21.5"/><rect x="176.1" y="1822.1" width="5.8" height="29.6"/><rect x="186.1" y="1830.2" width="5.8" height="21.5"/><circle cx="189" cy="1824.4" r="3.6"/><path d="M196,1851.7 V1830.2 H201.7 V1832.6 C203.3,1830.6 205.5,1829.7 208.2,1829.7 C213,1829.7 215.7,1833.2 215.7,1838.5 V1851.7 H210 V1839.5 C210,1836.5 208.6,1834.9 206.3,1834.9 C203.6,1834.9 201.7,1837 201.7,1840.5 V1851.7 Z"/><path d="M236.2,1830.2 H241.8 V1850.5 C241.8,1857.5 237,1861.7 230.5,1861.7 C226.5,1861.7 223,1860.2 220.2,1857.8 L223.5,1854.2 C225.5,1855.6 227.8,1856.3 230.5,1856.3 C234,1856.3 236.2,1854 236.2,1850 Z"/><path d="M241.1,1822.1 H247.8 L257,1843 L265.3,1822.1 H271.7 L259.9,1851.7 H254.2 Z"/><rect x="274.1" y="1830.2" width="5.9" height="21.5"/><circle cx="277.05" cy="1824.4" r="3.7"/><rect x="287" y="1838.3" width="18.8" height="4.1"/><path d="M306,1830.2 H312 L316.4,1843.1 L320.8,1830.2 H325.4 L329.3,1843.9 L333.6,1830.2 H339.8 L332.6,1851.7 H327 L323.1,1839.8 L318.7,1851.7 H313 Z"/></g>
<g fill="none" stroke="#131313" stroke-width="5.8"><circle cx="144.9" cy="1841.05" r="8.45"/><circle cx="170.9" cy="1841.05" r="8.45"/><circle cx="230.5" cy="1840.8" r="8.2"/><path d="M301.66,1845.27 A8.3,8.3 0 1 1 303.0,1840.75"/></g></svg>
<svg class="t" width="3250" height="1898" viewBox="0 0 3250 1898" font-family="'Liberation Sans', sans-serif"><text x="2400" y="146.1" font-size="24" fill="#ff8c00" text-anchor="end" textLength="121.5" lengthAdjust="spacingAndGlyphs">R3 (542.0)</text>
<text x="2400" y="323.1" font-size="24" fill="#ff8c00" text-anchor="end" textLength="121.5" lengthAdjust="spacingAndGlyphs">R2 (499.1)</text>
<text x="2400" y="518.3" font-size="24" fill="#ff8c00" text-anchor="end" textLength="121.5" lengthAdjust="spacingAndGlyphs">R1 (451.9)</text>
<text x="2400" y="890.9" font-size="24" fill="#ff8c00" text-anchor="end" textLength="121.5" lengthAdjust="spacingAndGlyphs">S1 (361.8)</text>
<text x="2400" y="1067.5" font-size="24" fill="#ff8c00" text-anchor="end" textLength="121.5" lengthAdjust="spacingAndGlyphs">S2 (318.9)</text>
<text x="2400" y="1262.8" font-size="24" fill="#ff8c00" text-anchor="end" textLength="121.5" lengthAdjust="spacingAndGlyphs">S3 (271.7)</text>
<text x="20.6" y="40.2" font-size="24" fill="#131722" textLength="882" lengthAdjust="spacingAndGlyphs">CryptoFXStreet created with TradingView.com, Oct 30, 2025 08:39 UTC+5:30</text>
<text x="36.4" y="94.7" font-size="24" fill="#131722" textLength="332.3" lengthAdjust="spacingAndGlyphs">TAO / TetherUS · 4h · Binance</text>
<text x="384.4" y="94.7" font-size="24" fill="#131722" textLength="76.3" lengthAdjust="spacingAndGlyphs">O441.1</text>
<text x="474.5" y="94.7" font-size="24" fill="#131722" textLength="81.1" lengthAdjust="spacingAndGlyphs">H455.7</text>
<text x="570.6" y="94.7" font-size="24" fill="#131722" textLength="77.4" lengthAdjust="spacingAndGlyphs">L435.8</text>
<text x="663.3" y="94.7" font-size="24" fill="#131722" textLength="83.2" lengthAdjust="spacingAndGlyphs">C448.6</text>
<text x="761.2" y="94.7" font-size="24" fill="#131722" textLength="153.3" lengthAdjust="spacingAndGlyphs">+7.6 (+1.72%)</text>
<text x="36.4" y="127.5" font-size="24" fill="#131722" textLength="224.6" lengthAdjust="spacingAndGlyphs">EMA 20/50/100/200</text>
<text x="275.6" y="127.5" font-size="24" fill="#ff7f00" textLength="60.2" lengthAdjust="spacingAndGlyphs">413.0</text>
<text x="351.5" y="127.5" font-size="24" fill="#0000ff" textLength="64.6" lengthAdjust="spacingAndGlyphs">380.9</text>
<text x="36.4" y="161.5" font-size="24" fill="#131722" textLength="277.5" lengthAdjust="spacingAndGlyphs">Pivots (Traditional, Auto)</text>
<text x="36.5" y="1347" font-size="24" fill="#131722" textLength="159.7" lengthAdjust="spacingAndGlyphs">RSI (14, close)</text>
<text x="212" y="1347" font-size="24" fill="#7e57c2" textLength="62.6" lengthAdjust="spacingAndGlyphs">65.79</text>
<text x="289.5" y="1347" font-size="24" fill="#fdd835" textLength="57.2" lengthAdjust="spacingAndGlyphs">61.16</text>
<text x="36.5" y="1556" font-size="24" fill="#131722" textLength="235.5" lengthAdjust="spacingAndGlyphs">MACD (12, 26, close)</text>
<text x="287" y="1556" font-size="24" fill="#26a69a" textLength="30.5" lengthAdjust="spacingAndGlyphs">1.0</text>
<text x="333" y="1556" font-size="24" fill="#2962ff" textLength="34" lengthAdjust="spacingAndGlyphs">9.9</text>
<text x="382.5" y="1556" font-size="24" fill="#f23645" textLength="34.3" lengthAdjust="spacingAndGlyphs">8.9</text>
<text x="3198.5" y="153.8" font-size="24" fill="#131722" text-anchor="end" textLength="64.6" lengthAdjust="spacingAndGlyphs">540.0</text>
<text x="3198.5" y="236.4" font-size="24" fill="#131722" text-anchor="end" textLength="64.6" lengthAdjust="spacingAndGlyphs">520.0</text>
<text x="3198.5" y="319.1" font-size="24" fill="#131722" text-anchor="end" textLength="64.6" lengthAdjust="spacingAndGlyphs">500.0</text>
<text x="3198.5" y="484.4" font-size="24" fill="#131722" text-anchor="end" textLength="64.6" lengthAdjust="spacingAndGlyphs">460.0</text>
<text x="3198.5" y="649.7" font-size="24" fill="#131722" text-anchor="end" textLength="64.6" lengthAdjust="spacingAndGlyphs">420.0</text>
<text x="3198.5" y="732.4" font-size="24" fill="#131722" text-anchor="end" textLength="64.6" lengthAdjust="spacingAndGlyphs">400.0</text>
<text x="3198.5" y="897.7" font-size="24" fill="#131722" text-anchor="end" textLength="64.6" lengthAdjust="spacingAndGlyphs">360.0</text>
<text x="3198.5" y="980.3" font-size="24" fill="#131722" text-anchor="end" textLength="64.6" lengthAdjust="spacingAndGlyphs">340.0</text>
<text x="3198.5" y="1063" font-size="24" fill="#131722" text-anchor="end" textLength="64.6" lengthAdjust="spacingAndGlyphs">320.0</text>
<text x="3198.5" y="1145.6" font-size="24" fill="#131722" text-anchor="end" textLength="64.6" lengthAdjust="spacingAndGlyphs">300.0</text>
<text x="3198.5" y="1228.3" font-size="24" fill="#131722" text-anchor="end" textLength="64.6" lengthAdjust="spacingAndGlyphs">280.0</text>
<defs><clipPath id="c260"><rect x="3116" y="1280" width="110" height="24"/></clipPath></defs>
<g clip-path="url(#c260)">
<text x="3198.5" y="1311" font-size="24" fill="#131722" text-anchor="end" textLength="64.6" lengthAdjust="spacingAndGlyphs">260.0</text>
</g>
<text x="3198.5" y="1461.8" font-size="24" fill="#131722" text-anchor="end" textLength="64.6" lengthAdjust="spacingAndGlyphs">40.00</text>
<text x="3172" y="96.2" font-size="24" fill="#131722" text-anchor="middle" textLength="63" lengthAdjust="spacingAndGlyphs">USDT</text>
<text x="3053.5" y="404.8" font-size="24" fill="#131722" textLength="52" lengthAdjust="spacingAndGlyphs">High</text>
<text x="3198.5" y="404.8" font-size="24" fill="#131722" text-anchor="end" textLength="64.6" lengthAdjust="spacingAndGlyphs">479.0</text>
<text x="3198.5" y="530.6" font-size="24" fill="#131722" text-anchor="end" textLength="64.6" lengthAdjust="spacingAndGlyphs">448.6</text>
<text x="3198.5" y="558.8" font-size="24" fill="#3c3f48" text-anchor="end" textLength="64.6" lengthAdjust="spacingAndGlyphs">50:23</text>
<text x="3198.5" y="678.4" font-size="24" fill="#ffffff" text-anchor="end" textLength="64.6" lengthAdjust="spacingAndGlyphs">413.0</text>
<text x="3198.5" y="810.2" font-size="24" fill="#ffffff" text-anchor="end" textLength="64.6" lengthAdjust="spacingAndGlyphs">380.9</text>
<text x="3198.5" y="1357.3" font-size="24" fill="#ffffff" text-anchor="end" textLength="64.6" lengthAdjust="spacingAndGlyphs">65.79</text>
<text x="3198.5" y="1391.3" font-size="24" fill="#131722" text-anchor="end" textLength="64.6" lengthAdjust="spacingAndGlyphs">61.16</text>
<text x="3168" y="1597.4" font-size="24" fill="#ffffff" text-anchor="end" textLength="34.5" lengthAdjust="spacingAndGlyphs">9.9</text>
<text x="3168" y="1631.4" font-size="24" fill="#ffffff" text-anchor="end" textLength="34.5" lengthAdjust="spacingAndGlyphs">8.9</text>
<text x="3168" y="1665.2" font-size="24" fill="#ffffff" text-anchor="end" textLength="31.5" lengthAdjust="spacingAndGlyphs">1.0</text>
<text x="83" y="1760" font-size="24" fill="#131722" text-anchor="middle" textLength="25.5" lengthAdjust="spacingAndGlyphs">11</text>
<text x="228" y="1760" font-size="24" fill="#131722" text-anchor="middle" textLength="25.5" lengthAdjust="spacingAndGlyphs">12</text>
<text x="373" y="1760" font-size="24" fill="#131722" text-anchor="middle" textLength="25.5" lengthAdjust="spacingAndGlyphs" font-weight="bold">13</text>
<text x="518" y="1760" font-size="24" fill="#131722" text-anchor="middle" textLength="25.5" lengthAdjust="spacingAndGlyphs">14</text>
<text x="664" y="1760" font-size="24" fill="#131722" text-anchor="middle" textLength="25.5" lengthAdjust="spacingAndGlyphs">15</text>
<text x="809" y="1760" font-size="24" fill="#131722" text-anchor="middle" textLength="25.5" lengthAdjust="spacingAndGlyphs">16</text>
<text x="954" y="1760" font-size="24" fill="#131722" text-anchor="middle" textLength="25.5" lengthAdjust="spacingAndGlyphs">17</text>
<text x="1099" y="1760" font-size="24" fill="#131722" text-anchor="middle" textLength="25.5" lengthAdjust="spacingAndGlyphs">18</text>
<text x="1244" y="1760" font-size="24" fill="#131722" text-anchor="middle" textLength="25.5" lengthAdjust="spacingAndGlyphs">19</text>
<text x="1390" y="1760" font-size="24" fill="#131722" text-anchor="middle" textLength="25.5" lengthAdjust="spacingAndGlyphs" font-weight="bold">20</text>
<text x="1535" y="1760" font-size="24" fill="#131722" text-anchor="middle" textLength="25.5" lengthAdjust="spacingAndGlyphs">21</text>
<text x="1680" y="1760" font-size="24" fill="#131722" text-anchor="middle" textLength="25.5" lengthAdjust="spacingAndGlyphs">22</text>
<text x="1825" y="1760" font-size="24" fill="#131722" text-anchor="middle" textLength="25.5" lengthAdjust="spacingAndGlyphs">23</text>
<text x="1970" y="1760" font-size="24" fill="#131722" text-anchor="middle" textLength="25.5" lengthAdjust="spacingAndGlyphs">24</text>
<text x="2116" y="1760" font-size="24" fill="#131722" text-anchor="middle" textLength="25.5" lengthAdjust="spacingAndGlyphs">25</text>
<text x="2261" y="1760" font-size="24" fill="#131722" text-anchor="middle" textLength="25.5" lengthAdjust="spacingAndGlyphs">26</text>
<text x="2406" y="1760" font-size="24" fill="#131722" text-anchor="middle" textLength="25.5" lengthAdjust="spacingAndGlyphs" font-weight="bold">27</text>
<text x="2551" y="1760" font-size="24" fill="#131722" text-anchor="middle" textLength="25.5" lengthAdjust="spacingAndGlyphs">28</text>
<text x="2696" y="1760" font-size="24" fill="#131722" text-anchor="middle" textLength="25.5" lengthAdjust="spacingAndGlyphs">29</text>
<text x="2842" y="1760" font-size="24" fill="#131722" text-anchor="middle" textLength="25.5" lengthAdjust="spacingAndGlyphs">30</text>
<text x="2987" y="1760" font-size="24" fill="#131722" text-anchor="middle" textLength="25.5" lengthAdjust="spacingAndGlyphs">31</text></svg>
</body></html>
